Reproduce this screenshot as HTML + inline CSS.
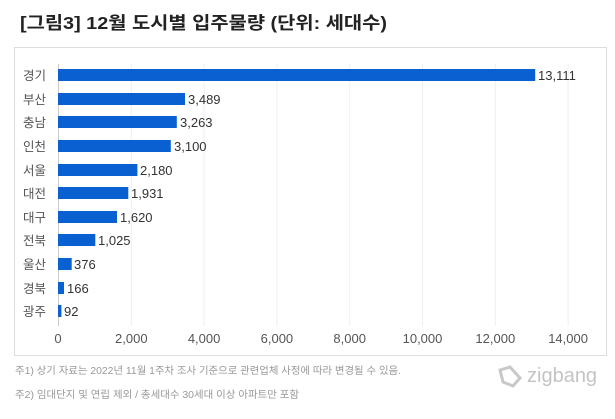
<!DOCTYPE html>
<html><head><meta charset="utf-8"><style>
body{margin:0;background:#fff;width:615px;height:414px;overflow:hidden;font-family:"Liberation Sans","Noto Sans CJK KR",sans-serif;}
</style></head><body>
<svg width="615" height="414" xmlns="http://www.w3.org/2000/svg" font-family="Liberation Sans, Noto Sans CJK KR, sans-serif">
<text x="20" y="29" font-size="17.5" font-weight="bold" fill="#222" textLength="367" lengthAdjust="spacingAndGlyphs">[그림3] 12월 도시별 입주물량 (단위: 세대수)</text>
<rect x="14.5" y="47.5" width="592" height="308" fill="#fff" stroke="#ddd"/>
<g stroke="#eee" stroke-width="1">
<line x1="58.5" y1="64" x2="58.5" y2="326" stroke="#ccc"/>
<line x1="131.3" y1="64" x2="131.3" y2="326"/>
<line x1="204.1" y1="64" x2="204.1" y2="326"/>
<line x1="276.9" y1="64" x2="276.9" y2="326"/>
<line x1="349.7" y1="64" x2="349.7" y2="326"/>
<line x1="422.5" y1="64" x2="422.5" y2="326"/>
<line x1="495.3" y1="64" x2="495.3" y2="326"/>
<line x1="568.1" y1="64" x2="568.1" y2="326"/>
</g>
<g fill="#0a5fd1">
<rect x="58" y="69" width="477.2" height="12"/>
<rect x="58" y="93" width="127" height="12"/>
<rect x="58" y="116" width="118.8" height="12"/>
<rect x="58" y="140" width="112.8" height="12"/>
<rect x="58" y="164" width="79.4" height="12"/>
<rect x="58" y="187" width="70.3" height="12"/>
<rect x="58" y="211" width="59" height="12"/>
<rect x="58" y="234" width="37.3" height="12"/>
<rect x="58" y="258" width="13.7" height="12"/>
<rect x="58" y="282" width="6" height="12"/>
<rect x="58" y="305" width="3.4" height="12"/>
</g>
<g font-size="12.5" fill="#555">
<text x="23" y="80">경기</text><text x="23" y="104">부산</text><text x="23" y="127">충남</text>
<text x="23" y="151">인천</text><text x="23" y="175">서울</text><text x="23" y="198">대전</text>
<text x="23" y="222">대구</text><text x="23" y="245">전북</text><text x="23" y="269">울산</text>
<text x="23" y="293">경북</text><text x="23" y="316">광주</text>
</g>
<g font-size="13" fill="#333">
<text x="538" y="80">13,111</text><text x="188" y="104">3,489</text><text x="180" y="127">3,263</text>
<text x="174" y="151">3,100</text><text x="140" y="175">2,180</text><text x="131" y="198">1,931</text>
<text x="120" y="222">1,620</text><text x="98" y="245">1,025</text><text x="74" y="269">376</text>
<text x="67" y="293">166</text><text x="64" y="316">92</text>
</g>
<g font-size="13" fill="#555" text-anchor="middle">
<text x="58" y="343">0</text><text x="131.3" y="343">2,000</text><text x="204.1" y="343">4,000</text>
<text x="276.9" y="343">6,000</text><text x="349.7" y="343">8,000</text><text x="422.5" y="343">10,000</text>
<text x="495.3" y="343">12,000</text><text x="568.1" y="343">14,000</text>
</g>
<g font-size="10.3" fill="#999">
<text x="15" y="374" textLength="386" lengthAdjust="spacingAndGlyphs">주1) 상기 자료는 2022년 11월 1주차 조사 기준으로 관련업체 사정에 따라 변경될 수 있음.</text>
<text x="15" y="398" textLength="284" lengthAdjust="spacingAndGlyphs">주2) 임대단지 및 연립 제외 / 총세대수 30세대 이상 아파트만 포함</text>
</g>
<g fill="none" stroke="#c8c8c8" stroke-width="3">
<path d="M500 370 L510 367 L520 378 L513 386 L503 382 Z"/>
</g>
<text x="527" y="382" font-size="20" fill="#c4c4c4">zigbang</text>
</svg>
</body></html>
